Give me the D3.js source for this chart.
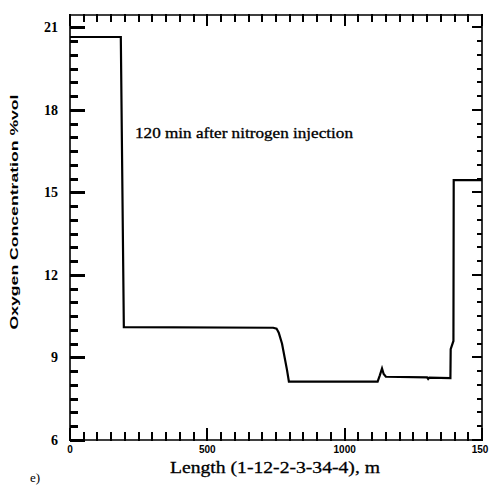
<!DOCTYPE html>
<html>
<head>
<meta charset="utf-8">
<script src="https://cdn.jsdelivr.net/npm/d3@7"></script>
<style>
  body { margin: 0; background: #fff; }
  svg { display: block; }
</style>
</head>
<body>
<div class="chart"></div>
<script>
// values
const lengthM = [0, 185, 196, 740, 752, 760, 772, 790, 797, 1120, 1128, 1136, 1142, 1150, 1300, 1304, 1308, 1385, 1386, 1396, 1397, 1500];
const oxygen = [20.65, 20.65, 10.1, 10.08, 10.05, 9.9, 9.5, 8.55, 8.12, 8.12, 8.35, 8.6, 8.4, 8.3, 8.28, 8.22, 8.27, 8.25, 9.3, 9.6, 15.45, 15.45];
const xTicks = [0, 500, 1000, 1500];
const xTickLabels = ['0', '500', '1000', '150'];
const yTicks = [6, 9, 12, 15, 18, 21];

const config = {
  width: 503,
  height: 487,
  left: 70,
  right: 482,
  top: 15,
  bottom: 440
};

const svg = d3.select('.chart')
  .append('svg')
  .attr('width', config.width)
  .attr('height', config.height);

const x = d3.scaleLinear().domain([0, 1500]).range([config.left, config.right]);
const y = d3.scaleLinear().domain([6, 21.45]).range([config.bottom, config.top]);

const xMinor = d3.range(0, 1501, 50);
const yMinor = d3.range(6, 21.3, 0.5);

// frame
svg.append('path')
  .attr('d', `M${config.left},${config.top}H${config.right}V${config.bottom}H${config.left}Z`)
  .attr('fill', 'none')
  .attr('stroke', '#000')
  .attr('stroke-width', 1.6);

// top and bottom inward ticks
const xSides = [
  { pos: config.bottom, sign: -1, big: 11, small: 7, w: 2.2 },
  { pos: config.top, sign: 1, big: 10, small: 6, w: 2 }
];

xSides.forEach(s => {
  const d = xMinor.map(v => {
    const len = (v % 500 === 0 ? s.big : s.small) * s.sign;
    return `M${Math.round(x(v))},${s.pos}v${len}`;
  }).join('');
  svg.append('path')
    .attr('d', d)
    .attr('fill', 'none')
    .attr('stroke', '#000')
    .attr('stroke-width', s.w)
    .attr('stroke-linecap', 'square')
    .attr('shape-rendering', 'crispEdges');
});

// left and right inward ticks, as solid bars
const ySides = [
  { pos: config.left, right: true, big: 15, small: 8, h: 3 },
  { pos: config.right, right: false, big: 10, small: 5, h: 2 }
];

ySides.forEach(s => {
  svg.append('g')
    .selectAll('rect')
    .data(yMinor)
    .join('rect')
    .attr('x', d => s.right ? s.pos : s.pos - (d % 3 === 0 ? s.big : s.small))
    .attr('y', d => Math.round(y(d)) - 1)
    .attr('width', d => d % 3 === 0 ? s.big : s.small)
    .attr('height', s.h)
    .attr('fill', '#000')
    .attr('shape-rendering', 'crispEdges');
});

// tick labels
svg.append('g')
  .selectAll('text')
  .data(yTicks)
  .enter()
  .append('text')
  .attr('x', 58)
  .attr('y', d => y(d) + 5)
  .attr('text-anchor', 'end')
  .attr('font-family', 'Liberation Serif, serif')
  .attr('font-weight', 'bold')
  .attr('font-size', 14)
  .text(d => d);

svg.append('g')
  .selectAll('text')
  .data(xTicks)
  .enter()
  .append('text')
  .attr('x', (d, i) => i === 3 ? x(d) - 2 : x(d))
  .attr('y', 453)
  .attr('text-anchor', 'middle')
  .attr('font-family', 'Liberation Sans, sans-serif')
  .attr('font-weight', 'bold')
  .attr('font-size', 10)
  .text((d, i) => xTickLabels[i]);

// data line
const line = d3.line()
  .x((d, i) => x(lengthM[i]))
  .y(d => y(d));

svg.append('path')
  .datum(oxygen)
  .attr('d', line)
  .attr('fill', 'none')
  .attr('stroke', '#000')
  .attr('stroke-width', 2.2)
  .attr('stroke-linejoin', 'miter');

// annotation
svg.append('text')
  .attr('x', 135)
  .attr('y', 138)
  .attr('font-family', 'Liberation Serif, serif')
  .attr('font-size', 14)
  .attr('stroke', '#000')
  .attr('stroke-width', 0.3)
  .attr('textLength', 218)
  .attr('lengthAdjust', 'spacingAndGlyphs')
  .text('120 min after nitrogen injection');

// axis titles
svg.append('text')
  .attr('x', 275)
  .attr('y', 473)
  .attr('text-anchor', 'middle')
  .attr('font-family', 'Liberation Serif, serif')
  .attr('font-size', 17)
  .attr('stroke', '#000')
  .attr('stroke-width', 0.3)
  .attr('textLength', 210)
  .attr('lengthAdjust', 'spacingAndGlyphs')
  .text('Length (1-12-2-3-34-4), m');

svg.append('text')
  .attr('transform', 'translate(18, 212) rotate(-90)')
  .attr('text-anchor', 'middle')
  .attr('font-family', 'Liberation Sans, sans-serif')
  .attr('font-weight', 'bold')
  .attr('font-size', 10)
  .attr('textLength', 235)
  .attr('lengthAdjust', 'spacingAndGlyphs')
  .text('Oxygen Concentration  %vol');

svg.append('text')
  .attr('x', 30)
  .attr('y', 482)
  .attr('font-family', 'Liberation Serif, serif')
  .attr('font-size', 13)
  .text('e)');
</script>
</body>
</html>
